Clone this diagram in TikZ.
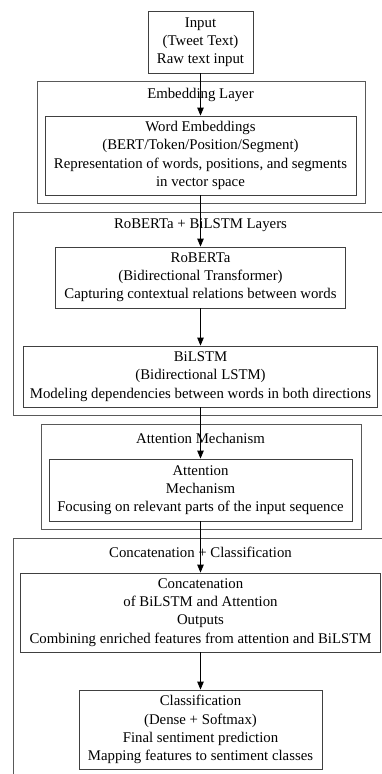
\documentclass[tikz,border=0pt]{standalone}
\usepackage{fontspec}
\setmainfont{Liberation Serif}
\usetikzlibrary{arrows.meta}

\begin{document}
\begin{tikzpicture}[x=1pt, y=-1pt, line width=0.8pt,
  box/.style={draw=black!75, align=center, inner sep=0pt,
    font=\fontsize{14.8}{18.2}\selectfont},
  group/.style={draw=black!65},
  grouptitle/.style={font=\fontsize{14.8}{18.2}\selectfont},
  flow/.style={-{Triangle[length=8pt, width=6.5pt]}, black}]
  \useasboundingbox (0,0) rectangle (381,774);
  % layer groups
  \draw[group] (37,81) rectangle (365,203);
  \node[grouptitle] (tembed) at (200.5,95) {Embedding Layer};
  \draw[group] (13,212) rectangle (392,415);
  \node[grouptitle] (trob) at (200.5,225) {RoBERTa + BiLSTM Layers};
  \draw[group] (41,424) rectangle (361,529);
  \node[grouptitle] (tatt) at (200.5,438) {Attention Mechanism};
  \draw[group] (13,538) rectangle (392,790);
  \node[grouptitle] (tcls) at (200.5,552) {Concatenation + Classification};
  % blocks
  \node[box, minimum width=105, minimum height=62] (input) at (200.5,42)
    {Input\\(Tweet Text)\\Raw text input};
  \node[box, minimum width=311, minimum height=79] (embed) at (200.5,155.5)
    {Word Embeddings\\(BERT/Token/Position/Segment)\\Representation of words, positions, and segments\\in vector space};
  \node[box, minimum width=290, minimum height=61] (roberta) at (200.5,277.5)
    {RoBERTa\\(Bidirectional Transformer)\\Capturing contextual relations between words};
  \node[box, minimum width=354, minimum height=61] (bilstm) at (200.5,376.5)
    {BiLSTM\\(Bidirectional LSTM)\\Modeling dependencies between words in both directions};
  \node[box, minimum width=303, minimum height=62] (attn) at (200.5,490)
    {Attention\\Mechanism\\Focusing on relevant parts of the input sequence};
  \node[box, minimum width=360, minimum height=79] (concat) at (200.5,612.5)
    {Concatenation\\of BiLSTM and Attention\\Outputs\\Combining enriched features from attention and BiLSTM};
  \node[box, minimum width=243, minimum height=79] (classify) at (200.5,729.5)
    {Classification\\(Dense + Softmax)\\Final sentiment prediction\\Mapping features to sentiment classes};
  % flow
  \draw[flow] (input) -- (embed);
  \draw[flow] (embed) -- (roberta);
  \draw[flow] (roberta) -- (bilstm);
  \draw[flow] (bilstm) -- (attn);
  \draw[flow] (attn) -- (concat);
  \draw[flow] (concat) -- (classify);
\end{tikzpicture}
\end{document}
